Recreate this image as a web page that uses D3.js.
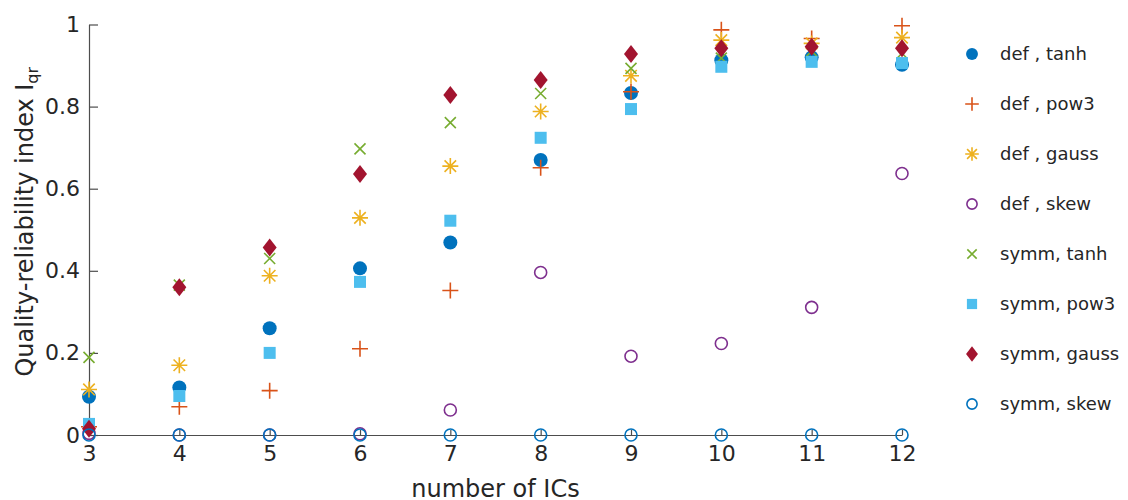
<!DOCTYPE html>
<html>
<head>
<meta charset="utf-8">
<script src="https://cdn.jsdelivr.net/npm/d3@7"></script>
<style>
  body { margin: 0; background: #fff; }
  svg text { font-family: "DejaVu Sans", sans-serif; fill: #262626; }
</style>
</head>
<body>
<div id="chart"></div>
<script>
// number of ICs on the x axis
const ics = [3, 4, 5, 6, 7, 8, 9, 10, 11, 12];

// Quality-reliability index per method
const defTanh   = [0.093, 0.116, 0.260, 0.406, 0.469, 0.670, 0.833, 0.913, 0.920, 0.902];
const defPow3   = [0.020, 0.069, 0.108, 0.210, 0.352, 0.651, 0.836, 0.987, 0.966, 0.997];
const defGauss  = [0.111, 0.170, 0.388, 0.529, 0.655, 0.788, 0.875, 0.962, 0.954, 0.968];
const defSkew   = [0.004, 0.000, 0.000, 0.003, 0.061, 0.396, 0.192, 0.223, 0.311, 0.637];
const symmTanh  = [0.189, 0.365, 0.430, 0.697, 0.761, 0.832, 0.893, 0.918, 0.935, 0.930];
const symmPow3  = [0.027, 0.095, 0.200, 0.373, 0.522, 0.724, 0.794, 0.897, 0.909, 0.906];
const symmGauss = [0.015, 0.360, 0.457, 0.636, 0.828, 0.865, 0.928, 0.942, 0.946, 0.942];
const symmSkew  = [0, 0, 0, 0, 0, 0, 0, 0, 0, 0];

const yTicks = [0, 0.2, 0.4, 0.6, 0.8, 1];
const yTickLabels = ['0', '0.2', '0.4', '0.6', '0.8', '1'];

const series = [
  { name: 'def , tanh',  values: defTanh,   marker: 'dot',     color: '#0072BD' },
  { name: 'def , pow3',  values: defPow3,   marker: 'plus',    color: '#D95319' },
  { name: 'def , gauss', values: defGauss,  marker: 'star',    color: '#EDB120' },
  { name: 'def , skew',  values: defSkew,   marker: 'ring',    color: '#7E2F8E' },
  { name: 'symm, tanh',  values: symmTanh,  marker: 'cross',   color: '#77AC30' },
  { name: 'symm, pow3',  values: symmPow3,  marker: 'square',  color: '#4DBEEE' },
  { name: 'symm, gauss', values: symmGauss, marker: 'diamond', color: '#A2142F' },
  { name: 'symm, skew',  values: symmSkew,  marker: 'ring',    color: '#0072BD' },
];

const width = 1128, height = 500;
const margin = { top: 24.5, right: 226, bottom: 65, left: 89 };

const svg = d3.select('#chart').append('svg')
  .attr('width', width)
  .attr('height', height);

const x = d3.scaleLinear().domain([3, 12]).range([margin.left, width - margin.right]);
const y = d3.scaleLinear().domain([0, 1]).range([height - margin.bottom, margin.top]);

// draws one marker centred at 0,0 in group g; s scales the size
function drawMarker(g, type, color, s) {
  s = s || 1;
  if (type === 'dot') {
    g.append('circle').attr('r', 7 * s).attr('fill', color);
  } else if (type === 'ring') {
    g.append('circle').attr('r', 6 * s).attr('fill', 'none')
      .attr('stroke', color).attr('stroke-width', 1.6);
  } else if (type === 'square') {
    g.append('rect').attr('x', -6 * s).attr('y', -6 * s)
      .attr('width', 12 * s).attr('height', 12 * s).attr('fill', color);
  } else if (type === 'diamond') {
    const w = 7 * s, h = 9 * s;
    g.append('path').attr('d', `M0,${-h}L${w},0L0,${h}L${-w},0Z`).attr('fill', color);
  } else if (type === 'plus') {
    const r = 8 * s;
    g.append('path').attr('d', `M${-r},0H${r}M0,${-r}V${r}`)
      .attr('stroke', color).attr('stroke-width', 1.6).attr('fill', 'none');
  } else if (type === 'cross') {
    const r = 5.5 * s;
    g.append('path').attr('d', `M${-r},${-r}L${r},${r}M${-r},${r}L${r},${-r}`)
      .attr('stroke', color).attr('stroke-width', 1.6).attr('fill', 'none');
  } else if (type === 'star') {
    const r = 8 * s, d = r * 0.72;
    g.append('path')
      .attr('d', `M${-r},0H${r}M0,${-r}V${r}M${-d},${-d}L${d},${d}M${-d},${d}L${d},${-d}`)
      .attr('stroke', color).attr('stroke-width', 1.6).attr('fill', 'none');
  }
}

/* AXES */
const yAxis = svg.append('g')
  .attr('transform', `translate(${margin.left},0)`)
  .call(d3.axisLeft(y).tickValues(yTicks).tickSizeInner(-9).tickSizeOuter(0)
    .tickFormat((d, i) => yTickLabels[i]).tickPadding(9));

const xAxis = svg.append('g')
  .attr('transform', `translate(0,${y(0)})`)
  .call(d3.axisBottom(x).tickValues(ics).tickSizeInner(-5).tickSizeOuter(0).tickPadding(10));

[xAxis, yAxis].forEach((ax) => {
  ax.select('.domain').attr('stroke', '#4d4d4d').attr('stroke-width', 1.2);
  ax.selectAll('.tick line').attr('stroke', '#4d4d4d').attr('stroke-width', 1.2);
  ax.selectAll('.tick text').attr('font-size', 22).attr('fill', '#262626')
    .attr('font-family', '"DejaVu Sans", sans-serif');
});

/* AXIS TITLES */
svg.append('text')
  .attr('x', (x(3) + x(12)) / 2)
  .attr('y', 497)
  .attr('text-anchor', 'middle')
  .attr('font-size', 24)
  .text('number of ICs');

const yTitle = svg.append('text')
  .attr('transform', `translate(33,${(y(0) + y(1)) / 2 - 8}) rotate(-90)`)
  .attr('text-anchor', 'middle')
  .attr('font-size', 24);
yTitle.append('tspan').text('Quality-reliability index I');
yTitle.append('tspan').attr('font-size', 16).attr('dy', 5).text('qr');

/* POINTS */
const plot = svg.append('g').attr('class', 'points');
series.forEach((s) => {
  plot.append('g').selectAll('g')
    .data(s.values)
    .join('g')
    .attr('transform', (d, i) => `translate(${x(ics[i])},${y(d)})`)
    .each(function () { drawMarker(d3.select(this), s.marker, s.color, 1); });
});

/* LEGEND */
const legend = svg.append('g').attr('transform', 'translate(972,54)');
series.forEach((s, i) => {
  const row = legend.append('g').attr('transform', `translate(0,${i * 50})`);
  drawMarker(row.append('g'), s.marker, s.color, 0.85);
  row.append('text')
    .attr('x', 28)
    .attr('dy', '0.35em')
    .attr('font-size', 18)
    .text(s.name);
});
</script>
</body>
</html>
